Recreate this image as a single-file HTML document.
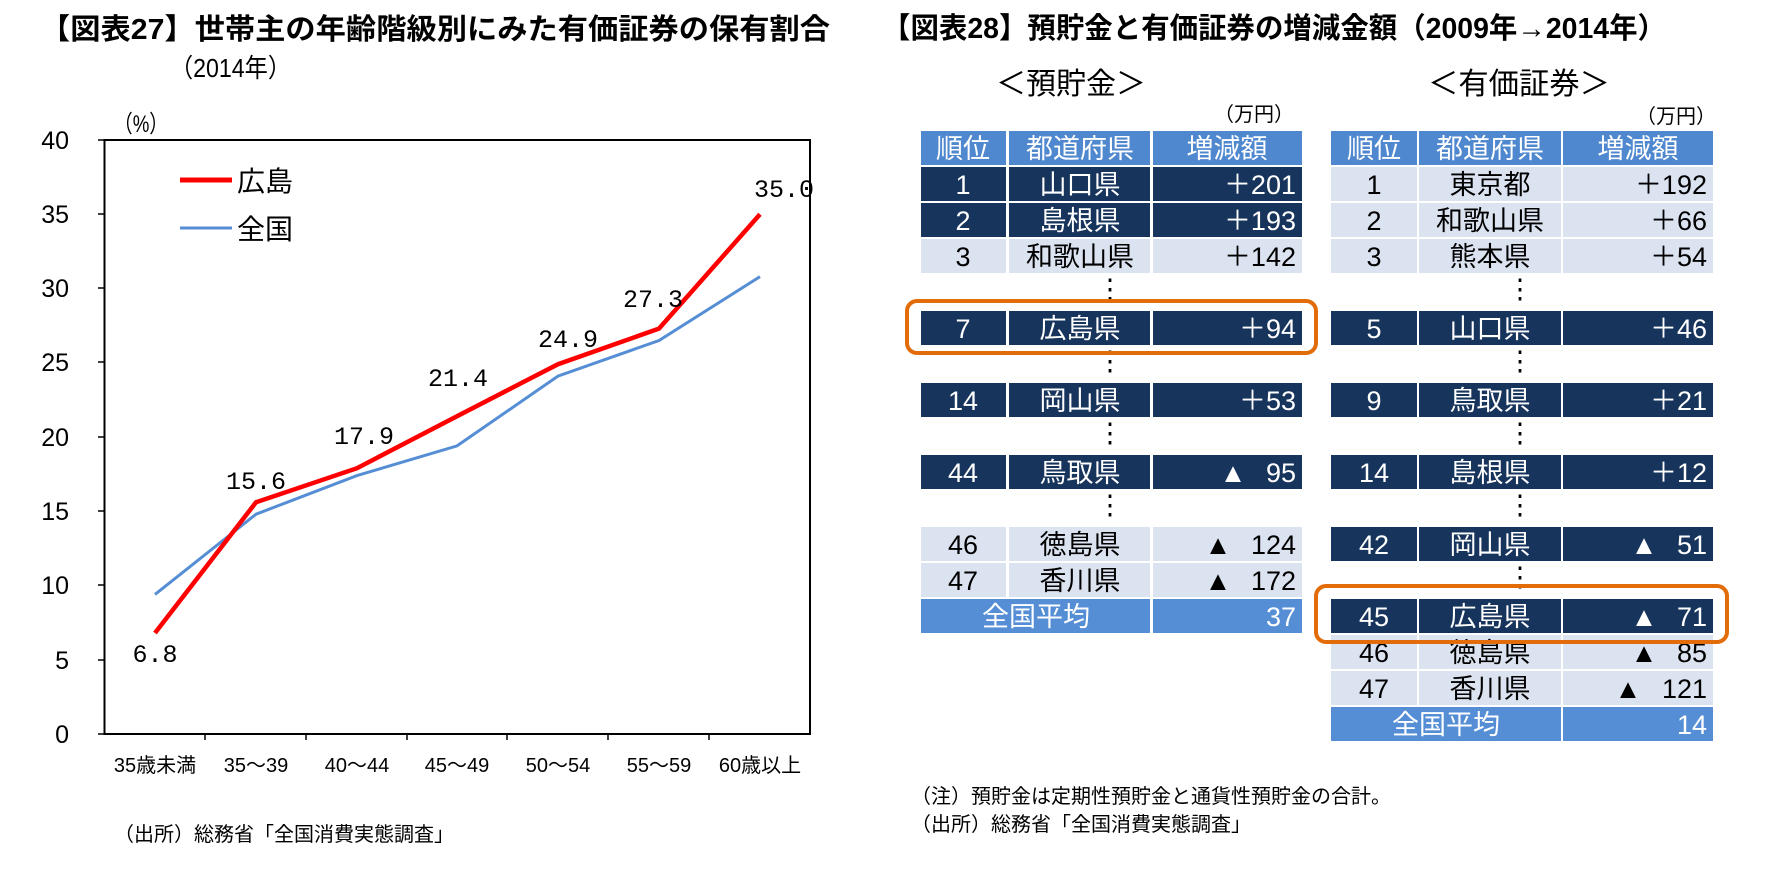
<!DOCTYPE html>
<html><head><meta charset="utf-8"><style>
html,body{margin:0;padding:0;background:#fff;}
svg{display:block;}
text{font-family:"Liberation Sans","Noto Sans CJK JP",sans-serif;}
.t{font-size:29px;fill:#000;font-weight:bold;}
.c{font-size:27px;text-anchor:middle;}
.r{font-size:27px;text-anchor:end;}
.w{fill:#fff;}
.k{fill:#000;}
text.dl{font-family:"Liberation Mono",monospace;font-size:25px;text-anchor:middle;}
</style></head><body>
<svg width="1772" height="879" viewBox="0 0 1772 879" xmlns="http://www.w3.org/2000/svg">
<text class="t" x="40" y="39" textLength="790" lengthAdjust="spacingAndGlyphs">【図表27】世帯主の年齢階級別にみた有価証券の保有割合</text>
<text x="170" y="77" font-size="26" textLength="121" lengthAdjust="spacingAndGlyphs">（2014年）</text>
<text x="114" y="132" font-size="24" textLength="54" lengthAdjust="spacingAndGlyphs">（%）</text>
<rect x="104.5" y="140" width="705.5" height="594" fill="none" stroke="#000" stroke-width="2"/>
<g stroke="#000" stroke-width="1.5">
<line x1="98" y1="140" x2="104" y2="140"/><line x1="98" y1="214" x2="104" y2="214"/><line x1="98" y1="288" x2="104" y2="288"/><line x1="98" y1="362" x2="104" y2="362"/><line x1="98" y1="437" x2="104" y2="437"/><line x1="98" y1="511" x2="104" y2="511"/><line x1="98" y1="585" x2="104" y2="585"/><line x1="98" y1="660" x2="104" y2="660"/><line x1="98" y1="734" x2="104" y2="734"/>
<line x1="205" y1="734" x2="205" y2="740"/><line x1="306" y1="734" x2="306" y2="740"/><line x1="407" y1="734" x2="407" y2="740"/><line x1="507" y1="734" x2="507" y2="740"/><line x1="608" y1="734" x2="608" y2="740"/><line x1="709" y1="734" x2="709" y2="740"/>
</g>
<g font-size="25" text-anchor="end">
<text x="69" y="149">40</text><text x="69" y="223">35</text><text x="69" y="297">30</text><text x="69" y="371">25</text><text x="69" y="446">20</text><text x="69" y="520">15</text><text x="69" y="594">10</text><text x="69" y="669">5</text><text x="69" y="743">0</text>
</g>
<g font-size="20" text-anchor="middle">
<text x="155" y="772">35歳未満</text><text x="256" y="772">35～39</text><text x="357" y="772">40～44</text><text x="457" y="772">45～49</text><text x="558" y="772">50～54</text><text x="659" y="772">55～59</text><text x="760" y="772">60歳以上</text>
</g>
<polyline fill="none" stroke="#558ED5" stroke-width="3" points="155,594.4 256,514.2 357,475.6 457,445.9 558,376.1 659,340.5 760,276.6"/>
<polyline fill="none" stroke="#FF0000" stroke-width="4.5" points="155,633 256,502.3 357,468.2 457,416.2 558,364.2 659,328.6 760,214.3"/>
<line x1="180" y1="180" x2="232" y2="180" stroke="#FF0000" stroke-width="5"/>
<text x="237" y="191" font-size="28">広島</text>
<line x1="180" y1="228" x2="232" y2="228" stroke="#558ED5" stroke-width="3"/>
<text x="237" y="239" font-size="28">全国</text>
<g>
<text class="dl" x="155" y="662">6.8</text><text class="dl" x="256" y="489">15.6</text><text class="dl" x="364" y="444">17.9</text><text class="dl" x="458" y="386">21.4</text><text class="dl" x="568" y="347">24.9</text><text class="dl" x="653" y="307">27.3</text><text class="dl" x="784" y="197">35.0</text>
</g>
<text x="114" y="841" font-size="20">（出所）総務省「全国消費実態調査」</text>

<text class="t" x="882" y="38" textLength="784" lengthAdjust="spacingAndGlyphs">【図表28】預貯金と有価証券の増減金額（2009年→2014年）</text>
<text x="996" y="94" font-size="30" textLength="150" lengthAdjust="spacingAndGlyphs">＜預貯金＞</text>
<text x="1428" y="94" font-size="30" textLength="182" lengthAdjust="spacingAndGlyphs">＜有価証券＞</text>
<text x="1214" y="121" font-size="20">（万円）</text>
<text x="1636" y="123" font-size="20">（万円）</text>

<g>
<rect x="921" y="131" width="85" height="34" fill="#4F88CF"/><rect x="1009" y="131" width="141" height="34" fill="#4F88CF"/><rect x="1153" y="131" width="149" height="34" fill="#4F88CF"/>
<text class="c w" x="963" y="158">順位</text><text class="c w" x="1080" y="158">都道府県</text><text class="c w" x="1227" y="158">増減額</text>
<rect x="921" y="167" width="85" height="34" fill="#17345C"/><rect x="1009" y="167" width="141" height="34" fill="#17345C"/><rect x="1153" y="167" width="149" height="34" fill="#17345C"/>
<text class="c w" x="963" y="194">1</text><text class="c w" x="1080" y="194">山口県</text><text class="r w" x="1296" y="194">＋201</text>
<rect x="921" y="203" width="85" height="34" fill="#17345C"/><rect x="1009" y="203" width="141" height="34" fill="#17345C"/><rect x="1153" y="203" width="149" height="34" fill="#17345C"/>
<text class="c w" x="963" y="230">2</text><text class="c w" x="1080" y="230">島根県</text><text class="r w" x="1296" y="230">＋193</text>
<rect x="921" y="239" width="85" height="34" fill="#DCE3F0"/><rect x="1009" y="239" width="141" height="34" fill="#DCE3F0"/><rect x="1153" y="239" width="149" height="34" fill="#DCE3F0"/>
<text class="c k" x="963" y="266">3</text><text class="c k" x="1080" y="266">和歌山県</text><text class="r k" x="1296" y="266">＋142</text>
<text class="c k" x="1110" y="298" font-size="20">⋮</text>
<rect x="921" y="311" width="85" height="34" fill="#17345C"/><rect x="1009" y="311" width="141" height="34" fill="#17345C"/><rect x="1153" y="311" width="149" height="34" fill="#17345C"/>
<text class="c w" x="963" y="338">7</text><text class="c w" x="1080" y="338">広島県</text><text class="r w" x="1296" y="338">＋94</text>
<text class="c k" x="1110" y="370" font-size="20">⋮</text>
<rect x="921" y="383" width="85" height="34" fill="#17345C"/><rect x="1009" y="383" width="141" height="34" fill="#17345C"/><rect x="1153" y="383" width="149" height="34" fill="#17345C"/>
<text class="c w" x="963" y="410">14</text><text class="c w" x="1080" y="410">岡山県</text><text class="r w" x="1296" y="410">＋53</text>
<text class="c k" x="1110" y="442" font-size="20">⋮</text>
<rect x="921" y="455" width="85" height="34" fill="#17345C"/><rect x="1009" y="455" width="141" height="34" fill="#17345C"/><rect x="1153" y="455" width="149" height="34" fill="#17345C"/>
<text class="c w" x="963" y="482">44</text><text class="c w" x="1080" y="482">鳥取県</text><text class="c w" x="1233" y="482" font-size="26">▲</text><text class="r w" x="1296" y="482">95</text>
<text class="c k" x="1110" y="514" font-size="20">⋮</text>
<rect x="921" y="527" width="85" height="34" fill="#DCE3F0"/><rect x="1009" y="527" width="141" height="34" fill="#DCE3F0"/><rect x="1153" y="527" width="149" height="34" fill="#DCE3F0"/>
<text class="c k" x="963" y="554">46</text><text class="c k" x="1080" y="554">徳島県</text><text class="c k" x="1218" y="554" font-size="26">▲</text><text class="r k" x="1296" y="554">124</text>
<rect x="921" y="563" width="85" height="34" fill="#DCE3F0"/><rect x="1009" y="563" width="141" height="34" fill="#DCE3F0"/><rect x="1153" y="563" width="149" height="34" fill="#DCE3F0"/>
<text class="c k" x="963" y="590">47</text><text class="c k" x="1080" y="590">香川県</text><text class="c k" x="1218" y="590" font-size="26">▲</text><text class="r k" x="1296" y="590">172</text>
<rect x="921" y="599" width="229" height="34" fill="#558ED5"/><rect x="1153" y="599" width="149" height="34" fill="#558ED5"/>
<text class="c w" x="1036" y="626">全国平均</text><text class="r w" x="1296" y="626">37</text>
</g>
<rect x="907" y="301" width="409" height="52" rx="10" fill="none" stroke="#E36C0A" stroke-width="4"/>

<g>
<rect x="1331" y="131" width="86" height="34" fill="#4F88CF"/><rect x="1419" y="131" width="142" height="34" fill="#4F88CF"/><rect x="1563" y="131" width="150" height="34" fill="#4F88CF"/>
<text class="c w" x="1374" y="158">順位</text><text class="c w" x="1490" y="158">都道府県</text><text class="c w" x="1638" y="158">増減額</text>
<rect x="1331" y="167" width="86" height="34" fill="#DCE3F0"/><rect x="1419" y="167" width="142" height="34" fill="#DCE3F0"/><rect x="1563" y="167" width="150" height="34" fill="#DCE3F0"/>
<text class="c k" x="1374" y="194">1</text><text class="c k" x="1490" y="194">東京都</text><text class="r k" x="1707" y="194">＋192</text>
<rect x="1331" y="203" width="86" height="34" fill="#DCE3F0"/><rect x="1419" y="203" width="142" height="34" fill="#DCE3F0"/><rect x="1563" y="203" width="150" height="34" fill="#DCE3F0"/>
<text class="c k" x="1374" y="230">2</text><text class="c k" x="1490" y="230">和歌山県</text><text class="r k" x="1707" y="230">＋66</text>
<rect x="1331" y="239" width="86" height="34" fill="#DCE3F0"/><rect x="1419" y="239" width="142" height="34" fill="#DCE3F0"/><rect x="1563" y="239" width="150" height="34" fill="#DCE3F0"/>
<text class="c k" x="1374" y="266">3</text><text class="c k" x="1490" y="266">熊本県</text><text class="r k" x="1707" y="266">＋54</text>
<text class="c k" x="1520" y="298" font-size="20">⋮</text>
<rect x="1331" y="311" width="86" height="34" fill="#17345C"/><rect x="1419" y="311" width="142" height="34" fill="#17345C"/><rect x="1563" y="311" width="150" height="34" fill="#17345C"/>
<text class="c w" x="1374" y="338">5</text><text class="c w" x="1490" y="338">山口県</text><text class="r w" x="1707" y="338">＋46</text>
<text class="c k" x="1520" y="370" font-size="20">⋮</text>
<rect x="1331" y="383" width="86" height="34" fill="#17345C"/><rect x="1419" y="383" width="142" height="34" fill="#17345C"/><rect x="1563" y="383" width="150" height="34" fill="#17345C"/>
<text class="c w" x="1374" y="410">9</text><text class="c w" x="1490" y="410">鳥取県</text><text class="r w" x="1707" y="410">＋21</text>
<text class="c k" x="1520" y="442" font-size="20">⋮</text>
<rect x="1331" y="455" width="86" height="34" fill="#17345C"/><rect x="1419" y="455" width="142" height="34" fill="#17345C"/><rect x="1563" y="455" width="150" height="34" fill="#17345C"/>
<text class="c w" x="1374" y="482">14</text><text class="c w" x="1490" y="482">島根県</text><text class="r w" x="1707" y="482">＋12</text>
<text class="c k" x="1520" y="514" font-size="20">⋮</text>
<rect x="1331" y="527" width="86" height="34" fill="#17345C"/><rect x="1419" y="527" width="142" height="34" fill="#17345C"/><rect x="1563" y="527" width="150" height="34" fill="#17345C"/>
<text class="c w" x="1374" y="554">42</text><text class="c w" x="1490" y="554">岡山県</text><text class="c w" x="1644" y="554" font-size="26">▲</text><text class="r w" x="1707" y="554">51</text>
<text class="c k" x="1520" y="586" font-size="20">⋮</text>
<rect x="1331" y="599" width="86" height="34" fill="#17345C"/><rect x="1419" y="599" width="142" height="34" fill="#17345C"/><rect x="1563" y="599" width="150" height="34" fill="#17345C"/>
<text class="c w" x="1374" y="626">45</text><text class="c w" x="1490" y="626">広島県</text><text class="c w" x="1644" y="626" font-size="26">▲</text><text class="r w" x="1707" y="626">71</text>
<rect x="1331" y="635" width="86" height="34" fill="#DCE3F0"/><rect x="1419" y="635" width="142" height="34" fill="#DCE3F0"/><rect x="1563" y="635" width="150" height="34" fill="#DCE3F0"/>
<text class="c k" x="1374" y="662">46</text><text class="c k" x="1490" y="662">徳島県</text><text class="c k" x="1644" y="662" font-size="26">▲</text><text class="r k" x="1707" y="662">85</text>
<rect x="1331" y="671" width="86" height="34" fill="#DCE3F0"/><rect x="1419" y="671" width="142" height="34" fill="#DCE3F0"/><rect x="1563" y="671" width="150" height="34" fill="#DCE3F0"/>
<text class="c k" x="1374" y="698">47</text><text class="c k" x="1490" y="698">香川県</text><text class="c k" x="1628" y="698" font-size="26">▲</text><text class="r k" x="1707" y="698">121</text>
<rect x="1331" y="707" width="230" height="34" fill="#558ED5"/><rect x="1563" y="707" width="150" height="34" fill="#558ED5"/>
<text class="c w" x="1446" y="734">全国平均</text><text class="r w" x="1707" y="734">14</text>
</g>
<rect x="1316" y="586" width="411" height="56" rx="10" fill="none" stroke="#E36C0A" stroke-width="4"/>

<text x="911" y="803" font-size="20">（注）預貯金は定期性預貯金と通貨性預貯金の合計。</text>
<text x="911" y="831" font-size="20">（出所）総務省「全国消費実態調査」</text>
</svg>
</body></html>
